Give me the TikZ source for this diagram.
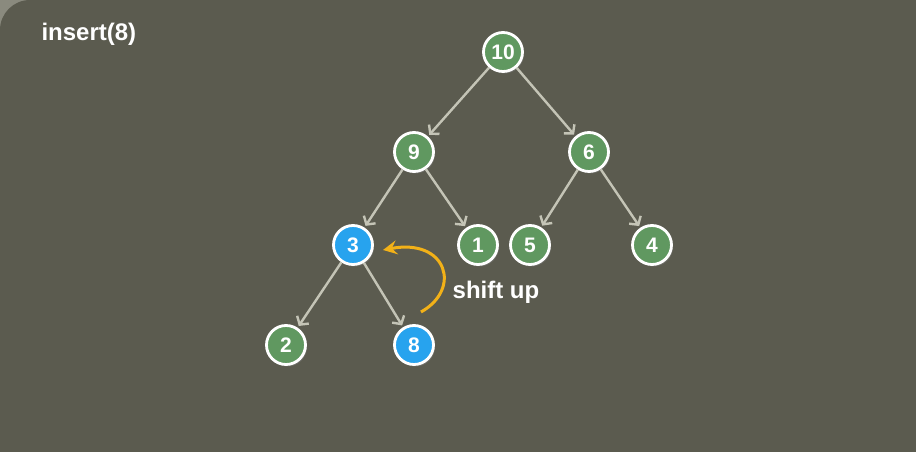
\documentclass[tikz,border=0pt]{standalone}
\usepackage{fontspec}
\setmainfont{Liberation Sans}
\usetikzlibrary{arrows.meta,shadows}

\definecolor{slatebg}{HTML}{5B5B4F}
\definecolor{slatecorner}{HTML}{8A8A7E}
\definecolor{heapgreen}{HTML}{609860}
\definecolor{heapblue}{HTML}{27A3EE}
\definecolor{edgegray}{HTML}{C4C4B6}
\definecolor{shiftorange}{HTML}{F2B118}

\begin{document}
\begin{tikzpicture}[x=1pt,y=1pt,
		heapnode/.style={circle,draw=white,line width=2.8pt,minimum size=39pt,inner sep=0pt,
			text=white,font=\fontsize{21}{21}\selectfont\bfseries,
			drop shadow={opacity=0.45,shadow xshift=1.5pt,shadow yshift=-2pt}},
		greennode/.style={heapnode,fill=heapgreen},
		bluenode/.style={heapnode,fill=heapblue},
		heapedge/.style={draw=edgegray,line width=2.4pt,shorten >=2pt,
			-{Straight Barb[length=6pt,width=14pt]}},
		label text/.style={text=white,font=\fontsize{24}{24}\selectfont\bfseries}]
	% slide background
	\fill[slatecorner] (0,0) rectangle (916,452);
	\fill[slatebg] (0,0) -- (0,422) arc[start angle=180,end angle=90,radius=30] -- (916,452) -- (916,0) -- cycle;
	\useasboundingbox (0,0) rectangle (916,452);

	\node[label text,anchor=west] (title) at (38,418) {insert(8)};

	\node[greennode] (n10) at (503,400) {10};
	\node[greennode] (n9) at (414,300) {9};
	\node[greennode] (n6) at (589,300) {6};
	\node[bluenode] (n3) at (353,207) {3};
	\node[greennode] (n1) at (478,207) {1};
	\node[greennode] (n5) at (530,207) {5};
	\node[greennode] (n4) at (652,207) {4};
	\node[greennode] (n2) at (286,107) {2};
	\node[bluenode] (n8) at (414,107) {8};

	\draw[heapedge] (n10) -- (n9);
	\draw[heapedge] (n10) -- (n6);
	\draw[heapedge] (n9) -- (n3);
	\draw[heapedge] (n9) -- (n1);
	\draw[heapedge] (n6) -- (n5);
	\draw[heapedge] (n6) -- (n4);
	\draw[heapedge] (n3) -- (n2);
	\draw[heapedge] (n3) -- (n8);

	% shift up
	\coordinate (arcstart) at (421,140);
	\coordinate (arcend) at (383,202);
	\draw[shiftorange,line width=3pt,-{Stealth[length=14pt,width=14pt,inset=5pt]}]
		(arcstart) .. controls (462,163) and (447,214) .. (arcend);
	\node[label text] (shift) at (496,160) {shift up};
\end{tikzpicture}
\end{document}
